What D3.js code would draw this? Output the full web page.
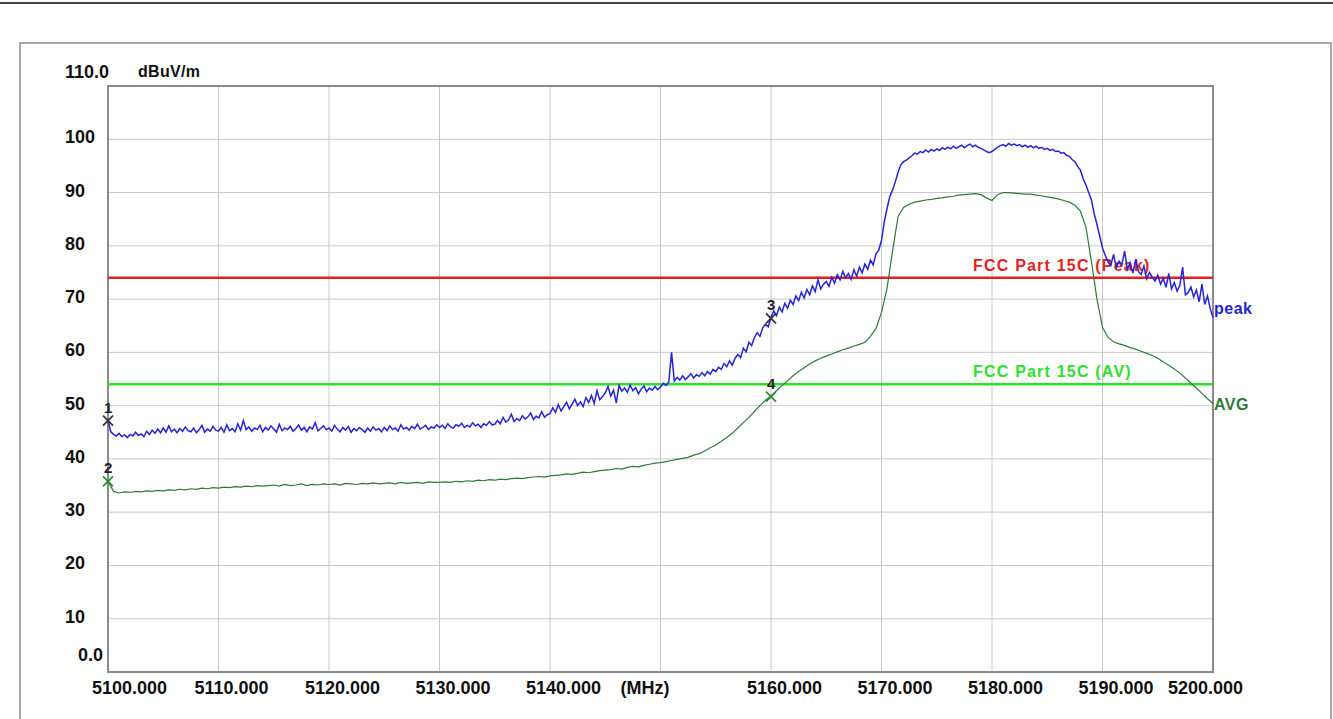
<!DOCTYPE html>
<html>
<head>
<meta charset="utf-8">
<script src="https://cdn.jsdelivr.net/npm/d3@7"></script>
<style>
  body { margin: 0; background: #fff; }
  svg { display: block; }
  text { font-family: "Liberation Sans", Arial, sans-serif; font-weight: bold; }
</style>
</head>
<body>
<div id="chart"></div>
<script>
// frequency ticks (MHz) and level ticks (dBuV/m)
var freqTicks = [5100, 5110, 5120, 5130, 5140, 5150, 5160, 5170, 5180, 5190, 5200]
var freqLabels = ["5100.000", "5110.000", "5120.000", "5130.000", "5140.000", "(MHz)", "5160.000", "5170.000", "5180.000", "5190.000", "5200.000"]
var levelTicks = [0, 10, 20, 30, 40, 50, 60, 70, 80, 90, 100, 110]
var levelLabels = ["0.0", "10", "20", "30", "40", "50", "60", "70", "80", "90", "100", "110.0"]

// peak trace, 5100 .. 5200 MHz, 0.25 MHz step (one row = 5 MHz)
var peakStart = 5100, peakStep = 0.25
var peak = [
  47.2, 45.1, 44.6, 44.3, 44.8, 44.2, 44.5, 44.0, 44.6, 44.3, 45.0, 44.4, 44.7, 44.2, 45.2, 44.6, 45.4, 44.8, 45.6, 44.9,
  45.8, 45.0, 46.2, 45.1, 45.6, 44.9, 45.7, 45.2, 46.0, 45.3, 45.1, 45.8, 44.9, 45.5, 46.3, 45.0, 45.6, 45.2, 46.1, 45.4,
  45.2, 45.9, 45.0, 46.4, 45.3, 45.7, 45.1, 46.6, 45.4, 47.2, 45.5, 46.0, 45.2, 45.8, 45.5, 46.3, 45.1, 45.9, 45.4, 46.2,
  45.6, 45.0, 46.5, 45.3, 45.8, 45.5, 46.1, 45.2, 45.7, 46.4, 45.4, 45.9, 45.1, 46.0, 45.6, 46.8, 45.3, 45.7, 46.2, 45.5,
  45.8, 45.2, 46.3, 45.6, 45.1, 45.9, 45.4, 46.1, 45.0, 45.7, 45.3, 45.9, 45.5, 45.0, 45.8, 45.2, 46.0, 45.4, 45.7, 45.1,
  45.9, 45.3, 46.2, 45.5, 45.8, 45.2, 46.4, 45.6, 45.9, 45.4, 46.1, 45.7, 46.5, 45.6, 45.9, 46.3, 45.5, 46.0, 45.8, 46.4,
  45.9, 46.3, 45.7, 46.6, 46.0, 45.8, 46.4, 46.1, 46.7, 45.9, 46.3, 46.0, 46.8, 46.2, 46.5, 45.9, 46.6, 46.3, 47.0, 46.4,
  46.5, 47.2, 46.6, 47.8, 46.9, 47.3, 48.4, 47.0, 47.6, 47.2, 48.1, 47.5, 47.9, 48.6, 47.4, 48.0, 47.7, 48.9, 47.8, 48.3,
  48.5, 49.6, 48.7, 50.2, 49.0, 49.8, 50.6, 49.4, 50.3, 51.2, 50.0, 50.7, 49.8, 51.5, 50.6, 51.9, 50.4, 52.8, 51.1, 51.7,
  52.4, 53.6, 51.8, 52.9, 50.5, 53.8, 52.7, 53.3, 52.5, 53.9, 52.8, 53.4, 52.2, 53.1, 53.7, 52.6, 53.3, 52.9, 53.6, 53.0,
  53.5, 54.2, 53.8, 54.4, 60.0, 54.6, 55.3, 54.8, 55.6, 54.9, 55.4, 56.0, 55.2, 55.8, 55.5, 56.2, 55.6, 56.4, 55.9, 56.8,
  56.4, 57.2, 56.8, 57.9, 57.3, 58.4, 57.6, 58.9, 59.6, 59.0, 60.8, 60.1, 61.9, 61.3, 62.8, 63.7, 63.0, 64.6, 65.3, 64.8,
  66.6, 67.8, 66.9, 68.5, 67.6, 69.2, 68.3, 69.8, 69.0, 70.6, 69.7, 71.3, 70.2, 71.8, 70.8, 72.5, 71.4, 73.6, 71.9, 72.8,
  73.3, 72.4, 74.1, 73.0, 74.6, 73.6, 75.2, 74.0, 74.8, 73.7, 75.5, 74.3, 76.0, 74.9, 76.6, 75.6, 77.3, 76.4, 78.5, 79.2,
  81.0, 84.5, 87.0, 89.2, 90.5, 92.0, 93.8, 95.2, 95.8, 96.1, 96.5, 96.9, 97.4, 97.2, 97.7, 97.5, 98.0, 97.6, 98.1, 97.8,
  98.2, 97.9, 98.4, 98.1, 98.5, 98.2, 98.7, 98.3, 98.6, 98.9, 98.4, 98.8, 99.1, 98.6, 98.9, 98.5, 98.3, 98.0, 97.7, 97.5,
  97.7, 98.1, 98.5, 98.8, 99.0, 98.7, 99.2, 98.9, 99.1, 98.8, 99.0, 98.6, 98.9, 98.5, 98.8, 98.4, 98.7, 98.3, 98.5, 98.1,
  98.3, 97.9, 98.1, 97.7, 97.8, 97.4, 97.5, 97.0, 96.8, 96.2, 95.8, 94.9, 94.2, 92.6, 91.4, 90.0, 88.6, 86.0, 84.0, 81.8,
  79.6, 78.2, 77.0, 76.3, 78.4, 75.9, 77.1, 76.4, 79.0, 75.6, 76.8, 74.9, 77.4, 75.2, 74.6, 76.2, 73.8, 75.0, 74.1, 73.4,
  74.5, 72.8, 73.9, 72.2, 74.8, 71.9, 73.1, 71.5, 72.6, 76.0, 70.8, 71.2, 72.3, 70.4, 71.7, 69.5, 72.8, 69.0, 70.6, 68.2,
  66.5
]

// average trace, 5100 .. 5200 MHz, 0.5 MHz step (one row = 5 MHz)
var avgStart = 5100, avgStep = 0.5
var avg = [
  35.8, 33.9, 33.6, 33.8, 33.7, 33.9, 33.8, 34.0, 33.9, 34.1,
  34.0, 34.2, 34.1, 34.3, 34.2, 34.4, 34.3, 34.5, 34.4, 34.6,
  34.5, 34.7, 34.6, 34.8, 34.7, 34.9, 34.8, 35.0, 34.9, 35.0,
  35.1, 34.9, 35.2, 35.0, 35.1, 35.3, 35.0, 35.2, 35.1, 35.3,
  35.2, 35.3, 35.1, 35.4, 35.3, 35.2, 35.4, 35.3, 35.5, 35.3,
  35.4, 35.5, 35.3, 35.6, 35.4, 35.5, 35.6, 35.4, 35.7, 35.6,
  35.6, 35.7, 35.6, 35.8, 35.7, 35.9, 35.8, 36.0, 35.9, 36.1,
  36.0, 36.2, 36.1, 36.3, 36.4, 36.3, 36.5, 36.6, 36.7, 36.6,
  36.8, 36.9, 37.0, 37.2, 37.1, 37.3, 37.5, 37.4, 37.6, 37.8,
  37.9, 38.0, 38.2, 38.1, 38.4, 38.6, 38.5, 38.8, 39.0, 39.2,
  39.3, 39.5, 39.7, 39.9, 40.1, 40.3, 40.7, 41.0, 41.5, 42.1,
  42.6, 43.3, 44.0, 44.8, 45.8, 46.8, 47.8, 48.9, 50.0, 51.0,
  51.8, 52.8, 53.8, 54.7, 55.6, 56.4, 57.1, 57.8, 58.4, 58.9,
  59.3, 59.7, 60.1, 60.5, 60.8, 61.2, 61.5, 61.9, 63.0, 64.5,
  67.5, 72.0, 79.0, 85.5, 87.2, 87.8, 88.2, 88.4, 88.6, 88.7,
  88.9, 89.0, 89.2, 89.3, 89.5, 89.6, 89.7, 89.8, 89.6, 89.0,
  88.5, 89.6, 90.0, 90.0, 89.9, 89.8, 89.7, 89.7, 89.5, 89.4,
  89.2, 89.0, 88.8, 88.5, 88.2, 87.6, 86.5, 83.5, 77.0, 70.0,
  64.7, 62.8, 62.0, 61.6, 61.3, 60.9, 60.6, 60.2, 59.8, 59.4,
  58.9, 58.2, 57.6, 56.9, 56.1, 55.2, 54.2, 53.3, 52.3, 51.3,
  50.4
]

// limit lines
var limitNames = ["FCC Part 15C (Peak)", "FCC Part 15C (AV)"]
var limitValues = [74, 54]
var limitColors = ["#e61e1e", "#2ee02e"]

// markers
var markerNames = ["1", "2", "3", "4"]
var markerFreqs = [5100, 5100, 5160, 5160]
var markerLevels = [47.2, 35.8, 66.4, 51.7]
var markerColors = ["#333333", "#2e8b2e", "#333333", "#2e8b2e"]

var W = 1333, H = 719
var plot = {left: 108, right: 1213, top: 86, bottom: 672}

var svg = d3.select("#chart")
    .append("svg")
        .attr("width", W)
        .attr("height", H)

// frame of the window
svg.append("line")
    .attr("x1", 0).attr("x2", W).attr("y1", 3).attr("y2", 3)
    .style("stroke", "#444").attr("stroke-width", 2)
svg.append("path")
    .attr("d", "M20," + H + "V43H1331V" + H)
    .style("fill", "none").style("stroke", "#a8a8a8").attr("stroke-width", 2)

var x = d3.scaleLinear()
    .domain([5100, 5200])
    .range([plot.left, plot.right])

var y = d3.scaleLinear()
    .domain([0, 110])
    .range([plot.bottom, plot.top])

//// grid ////
var grid = svg.append("g")
grid.selectAll("vgrid")
    .data(freqTicks.slice(1, -1))
    .enter()
    .append("line")
        .attr("x1", d => x(d)).attr("x2", d => x(d))
        .attr("y1", plot.top).attr("y2", plot.bottom)
        .style("stroke", "#c8c8c8")
grid.selectAll("hgrid")
    .data(levelTicks.slice(1, -1))
    .enter()
    .append("line")
        .attr("x1", plot.left).attr("x2", plot.right)
        .attr("y1", d => y(d)).attr("y2", d => y(d))
        .style("stroke", "#c8c8c8")

svg.append("rect")
    .attr("x", plot.left).attr("y", plot.top)
    .attr("width", plot.right - plot.left)
    .attr("height", plot.bottom - plot.top)
    .style("fill", "none").style("stroke", "#8a8a8a").attr("stroke-width", 2)

//// tick labels ////
svg.append("g")
    .selectAll("text")
    .data(levelTicks)
    .enter()
    .append("text")
        .attr("x", d => d == 0 ? 78 : 65)
        .attr("y", d => d == 0 ? 661 : (d == 110 ? 78 : y(d) + 4))
        .style("font-size", "18px")
        .style("fill", "#111")
        .text((d, i) => levelLabels[i])

svg.append("text")
    .attr("x", 138).attr("y", 77)
    .style("font-size", "16px")
    .style("letter-spacing", "0.3px")
    .style("fill", "#111")
    .text("dBuV/m")

svg.append("g")
    .selectAll("text")
    .data(freqTicks)
    .enter()
    .append("text")
        .attr("x", (d, i) => x(d) + (i == 0 ? -16 : i == freqTicks.length - 1 ? -45 : freqLabels[i] == "(MHz)" ? -40 : -24))
        .attr("y", 694)
        .style("font-size", "18px")
        .style("fill", "#111")
        .text((d, i) => freqLabels[i])

//// limit lines ////
var limits = svg.append("g")
limits.selectAll("line")
    .data(limitValues)
    .enter()
    .append("line")
        .attr("x1", plot.left).attr("x2", plot.right)
        .attr("y1", d => y(d)).attr("y2", d => y(d))
        .style("stroke", (d, i) => limitColors[i])
        .attr("stroke-width", 2.5)
limits.selectAll("text")
    .data(limitValues)
    .enter()
    .append("text")
        .attr("x", 973)
        .attr("y", d => y(d) - 7)
        .style("font-size", "16px")
        .style("letter-spacing", "1.2px")
        .style("fill", (d, i) => limitColors[i])
        .text((d, i) => limitNames[i])

//// traces ////
var avgLine = d3.line()
    .x((d, i) => x(avgStart + i * avgStep))
    .y(d => y(d))
svg.append("path")
    .datum(avg)
    .attr("d", avgLine)
    .style("fill", "none")
    .style("stroke", "#2f7a36")
    .attr("stroke-width", 1.2)

var peakLine = d3.line()
    .x((d, i) => x(peakStart + i * peakStep))
    .y(d => y(d))
svg.append("path")
    .datum(peak)
    .attr("d", peakLine)
    .style("fill", "none")
    .style("stroke", "#2424d8")
    .attr("stroke-width", 1.5)

svg.append("text")
    .attr("x", plot.right + 1).attr("y", y(peak[peak.length - 1]) - 4)
    .style("font-size", "16px")
    .style("letter-spacing", "0.5px")
    .style("fill", "#2424d8")
    .text("peak")
svg.append("text")
    .attr("x", plot.right + 1).attr("y", y(avg[avg.length - 1]) + 6)
    .style("font-size", "16px")
    .style("letter-spacing", "0.5px")
    .style("fill", "#2f7a36")
    .text("AVG")

//// markers ////
var marks = svg.append("g")
    .selectAll("g")
    .data(markerLevels)
    .enter()
    .append("g")
        .attr("transform", (d, i) => "translate(" + x(markerFreqs[i]) + "," + y(d) + ")")
marks.append("path")
    .attr("d", "M-5,-5L5,5M-5,5L5,-5")
    .style("stroke", (d, i) => markerColors[i])
    .attr("stroke-width", 1.8)
marks.append("text")
    .attr("x", -4).attr("y", -8)
    .style("font-size", "15px")
    .style("fill", "#222")
    .text((d, i) => markerNames[i])
</script>
</body>
</html>
